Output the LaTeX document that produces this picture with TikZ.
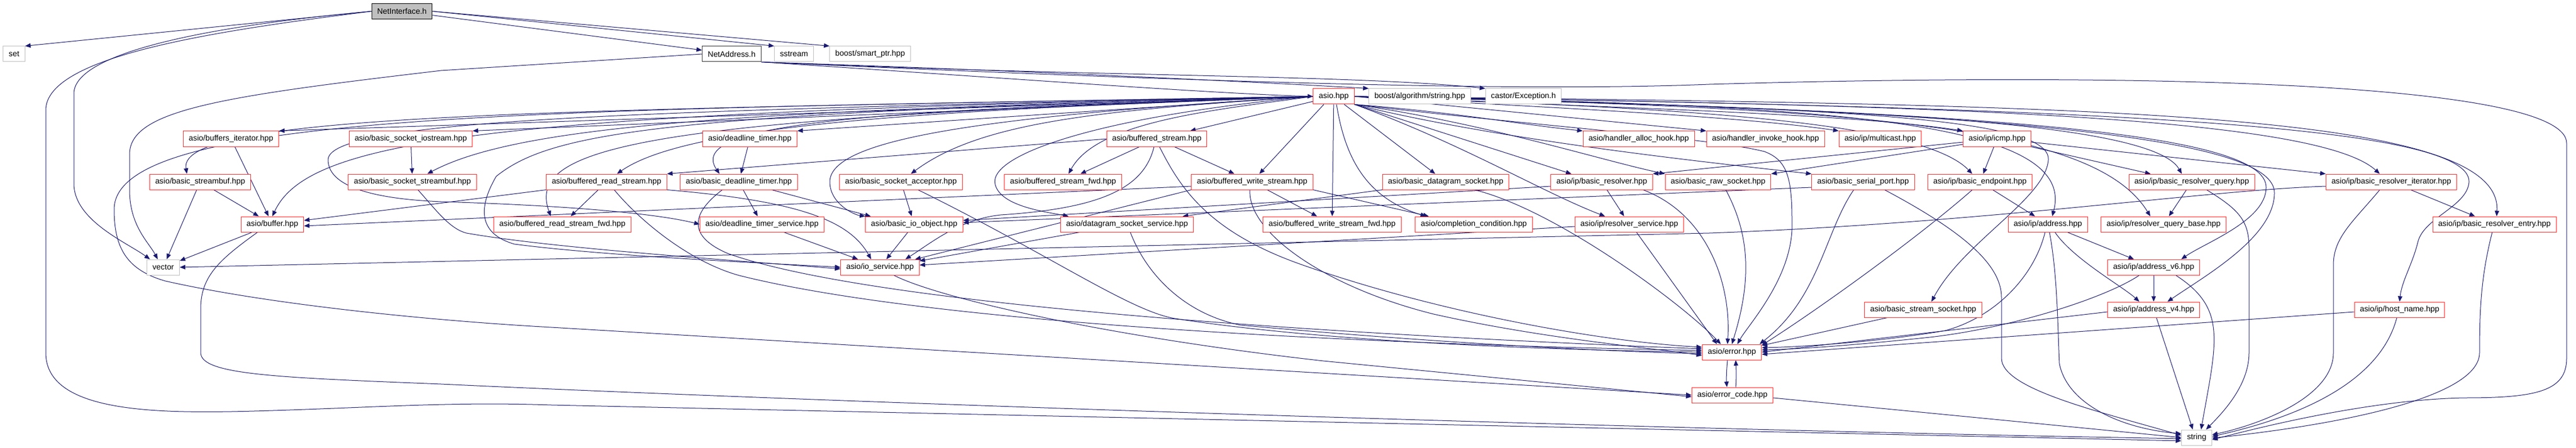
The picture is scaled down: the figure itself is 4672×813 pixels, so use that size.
\documentclass[tikz,border=0pt]{standalone}
\usepackage{fontspec}
\setmainfont{Liberation Sans}
\usetikzlibrary{arrows.meta}

\definecolor{edgeblue}{RGB}{25,25,112}
\definecolor{boxred}{RGB}{255,40,40}
\definecolor{boxgray}{RGB}{191,191,191}

\pgfdeclarelayer{edges}
\pgfsetlayers{edges,main}

\tikzset{
  file/.style={draw=boxred, fill=white, line width=1pt, inner xsep=10pt, inner ysep=0pt,
    minimum height=28pt, font=\fontsize{14.3}{16}\selectfont},
  sysfile/.style={file, draw=boxgray},
  docfile/.style={file, draw=black!80},
  mainfile/.style={file, draw=black, fill=boxgray},
  dep/.style={draw=edgeblue, line width=1pt, -{Triangle[length=10pt,width=8pt]}}
}

\begin{document}
\begin{tikzpicture}[x=1pt,y=1pt]
                \useasboundingbox (0,0) rectangle (4672,-813);
                % top files
                \node[mainfile] (netif) at (729,-20.5) {NetInterface.h};
                \node[sysfile] (set) at (25.5,-98) {set};
                \node[docfile] (netaddr) at (1327,-98) {NetAddress.h};
                \node[sysfile] (sstream) at (1440,-98) {sstream};
                \node[sysfile] (smartptr) at (1578,-98) {boost/smart\_ptr.hpp};
                \node[file] (asio) at (2419,-175) {asio.hpp};
                \node[sysfile] (algostr) at (2575,-175) {boost/algorithm/string.hpp};
                \node[sysfile] (castor) at (2763,-175) {castor/Exception.h};
                % row 4
                \node[file] (bufit) at (419,-252) {asio/buffers\_iterator.hpp};
                \node[file] (sockios) at (745,-252) {asio/basic\_socket\_iostream.hpp};
                \node[file] (dltimer) at (1360,-252) {asio/deadline\_timer.hpp};
                \node[file] (bufstream) at (2098,-252) {asio/buffered\_stream.hpp};
                \node[file] (halloc) at (2972,-252) {asio/handler\_alloc\_hook.hpp};
                \node[file] (hinvoke) at (3202,-252) {asio/handler\_invoke\_hook.hpp};
                \node[file] (mcast) at (3410,-252) {asio/ip/multicast.hpp};
                \node[file] (icmp) at (3622,-252) {asio/ip/icmp.hpp};
                % row 5
                \node[file] (streambuf) at (363,-330) {asio/basic\_streambuf.hpp};
                \node[file] (sockstreambuf) at (748,-330) {asio/basic\_socket\_streambuf.hpp};
                \node[file] (bufread) at (1100,-330) {asio/buffered\_read\_stream.hpp};
                \node[file] (basicdl) at (1340,-330) {asio/basic\_deadline\_timer.hpp};
                \node[file] (acceptor) at (1634,-330) {asio/basic\_socket\_acceptor.hpp};
                \node[file] (bufstreamfwd) at (1928,-330) {asio/buffered\_stream\_fwd.hpp};
                \node[file] (bufwrite) at (2271,-330) {asio/buffered\_write\_stream.hpp};
                \node[file] (dgram) at (2622,-330) {asio/basic\_datagram\_socket.hpp};
                \node[file] (resolver) at (2905,-330) {asio/ip/basic\_resolver.hpp};
                \node[file] (rawsock) at (3116,-330) {asio/basic\_raw\_socket.hpp};
                \node[file] (serial) at (3379,-330) {asio/basic\_serial\_port.hpp};
                \node[file] (endpoint) at (3591,-330) {asio/ip/basic\_endpoint.hpp};
                \node[file] (query) at (3975,-330) {asio/ip/basic\_resolver\_query.hpp};
                \node[file] (iterator) at (4337,-330) {asio/ip/basic\_resolver\_iterator.hpp};
                % row 6
                \node[file] (buffer) at (494,-407) {asio/buffer.hpp};
                \node[file] (bufreadfwd) at (1020,-407) {asio/buffered\_read\_stream\_fwd.hpp};
                \node[file] (dlservice) at (1382,-407) {asio/deadline\_timer\_service.hpp};
                \node[file] (ioobject) at (1658,-407) {asio/basic\_io\_object.hpp};
                \node[file] (dgramservice) at (2044,-407) {asio/datagram\_socket\_service.hpp};
                \node[file] (bufwritefwd) at (2416,-407) {asio/buffered\_write\_stream\_fwd.hpp};
                \node[file] (completion) at (2673,-407) {asio/completion\_condition.hpp};
                \node[file] (resservice) at (2955,-407) {asio/ip/resolver\_service.hpp};
                \node[file] (address) at (3714,-407) {asio/ip/address.hpp};
                \node[file] (querybase) at (3924,-407) {asio/ip/resolver\_query\_base.hpp};
                \node[file] (entry) at (4524,-407) {asio/ip/basic\_resolver\_entry.hpp};
                % lower rows
                \node[sysfile] (vector) at (296,-485) {vector};
                \node[file] (ioservice) at (1596,-485) {asio/io\_service.hpp};
                \node[file] (addrv6) at (3906,-485) {asio/ip/address\_v6.hpp};
                \node[file] (streamsock) at (3488,-562) {asio/basic\_stream\_socket.hpp};
                \node[file] (addrv4) at (3906,-562) {asio/ip/address\_v4.hpp};
                \node[file] (hostname) at (4352,-562) {asio/ip/host\_name.hpp};
                \node[file] (error) at (3141,-639) {asio/error.hpp};
                \node[file] (errorcode) at (3142,-717) {asio/error\_code.hpp};
                \node[sysfile] (string) at (3984,-794) {string};

                \begin{pgfonlayer}{edges}
                % NetInterface.h
                \draw[dep] (netif.west) -- (set.north east);
                \draw[dep] (netif.west) .. controls (350,-50) and (134,-100) .. (134,-170) -- (134,-333) .. controls (134,-400) and (230,-440) .. ([xshift=-24pt]vector.north);
                \draw[dep] (netif.west) .. controls (400,-55) and (83,-100) .. (83,-200) -- (83,-640) .. controls (83,-740) and (250,-750) .. (420,-747) .. controls (650,-742) and (800,-728) .. (1000,-735) -- ([yshift=-6pt]string.west);
                \draw[dep] (netif) -- (netaddr);
                \draw[dep] (netif.east) -- (sstream.north west);
                \draw[dep] (netif.east) -- (smartptr.north west);
                % NetAddress.h
                \draw[dep] (netaddr.west) -- (800,-128) .. controls (400,-175) and (235,-200) .. (235,-280) -- (235,-345) .. controls (235,-410) and (270,-440) .. ([xshift=-10pt]vector.north);
                \draw[dep] (netaddr.south east) .. controls (1800,-140) and (2200,-170) .. (asio.west);
                \draw[dep] (netaddr.south east) .. controls (1900,-130) and (2300,-150) .. (algostr.north west);
                \draw[dep] (netaddr.south east) .. controls (2000,-140) and (2450,-135) .. (castor.north west);
                \draw[dep] (netaddr.south east) .. controls (2300,-155) and (2800,-165) .. (3100,-153) .. controls (3900,-130) and (4655,-150) .. (4655,-260) -- (4655,-650) .. controls (4655,-710) and (4600,-722) .. (4470,-722) .. controls (4300,-725) and (4100,-775) .. ([yshift=-4pt]string.east);
                % asio.hpp
                \draw[dep] (asio.west) -- (bufit.north east);
                \draw[dep] (asio.west) -- (sockios.north east);
                \draw[dep] (asio.west) -- (dltimer.north east);
                \draw[dep] (asio) -- (bufstream);
                \draw[dep] (asio.south east) .. controls (2650,-205) and (2750,-225) .. (halloc.north west);
                \draw[dep] (asio.east) -- (hinvoke.north west);
                \draw[dep] (asio.east) .. controls (2800,-195) and (3150,-210) .. (mcast.north west);
                \draw[dep] (asio.east) .. controls (2900,-195) and (3350,-205) .. (icmp.north west);
                \draw[dep] (asio.west) .. controls (1000,-200) and (320,-205) .. ([xshift=-24pt]streambuf.north);
                \draw[dep] (asio.west) .. controls (1400,-200) and (950,-222) .. ([xshift=27pt]sockstreambuf.north);
                \draw[dep] (asio.west) .. controls (1700,-200) and (1250,-224) .. ([xshift=19pt]bufread.north);
                \draw[dep] (asio.west) .. controls (1600,-200) and (1240,-220) .. ([xshift=-35pt]basicdl.north);
                \draw[dep] (asio.west) .. controls (2000,-200) and (1780,-220) .. ([xshift=18pt]acceptor.north);
                \draw[dep] (asio.west) .. controls (2200,-200) and (1990,-220) .. ([xshift=10pt]bufstreamfwd.north);
                \draw[dep] ([xshift=-18pt]asio.south) -- ([xshift=13pt]bufwrite.north);
                \draw[dep] (asio) -- (dgram);
                \draw[dep] (asio.south east) -- ([xshift=-55pt]resolver.north);
                \draw[dep] (asio.south east) .. controls (2700,-225) and (2900,-290) .. (rawsock.north west);
                \draw[dep] (asio.south east) .. controls (2700,-250) and (3050,-290) .. (serial.north west);
                \draw[dep] (asio.east) .. controls (3000,-195) and (3480,-215) .. ([xshift=-14pt]endpoint.north);
                \draw[dep] (asio.east) .. controls (3300,-195) and (3900,-215) .. ([xshift=-18pt]query.north);
                \draw[dep] (asio.east) .. controls (3500,-190) and (4200,-210) .. ([xshift=-21pt]iterator.north);
                \draw[dep] (asio.west) .. controls (900,-205) and (560,-250) .. (buffer.north);
                \draw[dep] (asio.west) .. controls (1200,-215) and (950,-260) .. ([xshift=-21pt]bufreadfwd.north);
                \draw[dep] (asio.west) .. controls (1200,-200) and (595,-215) .. (595,-290) .. controls (595,-345) and (700,-362) .. (800,-366) .. controls (1000,-372) and (1180,-385) .. (dlservice.west);
                \draw[dep] (asio.west) .. controls (1800,-210) and (1505,-250) .. (1505,-330) .. controls (1505,-370) and (1550,-390) .. (ioobject.north west);
                \draw[dep] (asio.west) .. controls (2000,-210) and (1790,-280) .. (1805,-335) .. controls (1815,-375) and (1900,-385) .. ([xshift=15pt]dgramservice.north west);
                \draw[dep] (asio) -- (bufwritefwd);
                \draw[dep] ([xshift=5pt]asio.south) .. controls (2440,-290) and (2480,-360) .. ([xshift=20pt]completion.north west);
                \draw[dep] (asio.south east) .. controls (2650,-260) and (2800,-350) .. ([xshift=-44pt]resservice.north);
                \draw[dep] (asio.east) .. controls (3300,-190) and (3770,-215) .. ([xshift=8pt]address.north);
                \draw[dep] (asio.east) .. controls (3400,-195) and (3800,-230) .. ([xshift=-24pt]querybase.north);
                \draw[dep] (asio.east) .. controls (3800,-190) and (4540,-200) .. ([xshift=4pt]entry.north);
                \draw[dep] (asio.west) .. controls (1200,-205) and (1000,-240) .. (900,-320) .. controls (865,-380) and (870,-425) .. (933,-443) .. controls (1100,-465) and (1400,-478) .. (ioservice.west);
                \draw[dep] (asio.east) .. controls (3600,-200) and (4110,-240) .. (4110,-340) .. controls (4110,-400) and (4000,-440) .. ([xshift=50pt]addrv6.north);
                \draw[dep] (asio.east) .. controls (3700,-200) and (4125,-255) .. (4125,-350) .. controls (4125,-430) and (4000,-500) .. ([xshift=25pt]addrv4.north);
                \draw[dep] (asio.east) .. controls (3300,-195) and (3720,-210) .. (3715,-290) .. controls (3710,-360) and (3560,-440) .. ([xshift=15pt]streamsock.north);
                \draw[dep] (asio.east) .. controls (3800,-195) and (4480,-225) .. (4478,-330) .. controls (4475,-375) and (4395,-395) .. (4385,-440) .. controls (4375,-480) and (4356,-510) .. (hostname.north);
                \draw[dep] (asio.south east) .. controls (2800,-230) and (3100,-250) .. (3200,-275) .. controls (3240,-290) and (3250,-320) .. (3250,-400) .. controls (3255,-500) and (3170,-590) .. ([xshift=10pt]error.north);
                \draw[dep] (asio.west) .. controls (1000,-200) and (207,-200) .. (207,-380) .. controls (207,-450) and (230,-490) .. (300,-510) .. controls (500,-555) and (800,-583) .. (1000,-594) -- (errorcode.west);
                % buffers and streams
                \draw[dep] (bufit) -- (buffer);
                \draw[dep] (streambuf) -- (buffer);
                \draw[dep] (streambuf) -- (vector);
                \draw[dep] (buffer) -- (vector);
                \draw[dep] ([xshift=-27pt]buffer.south) .. controls (400,-470) and (364,-500) .. (364,-560) -- (364,-640) .. controls (364,-680) and (500,-685) .. (800,-697) .. controls (1500,-730) and (3000,-780) .. ([yshift=-2pt]string.west);
                \draw[dep] (sockios) -- (sockstreambuf);
                \draw[dep] ([xshift=10pt]sockstreambuf.south) .. controls (790,-380) and (815,-415) .. (846,-423) .. controls (1000,-450) and (1300,-470) .. ([yshift=-3pt]ioservice.west);
                \draw[dep] (dltimer) -- (basicdl);
                \draw[dep] (basicdl) -- (dlservice);
                \draw[dep] ([xshift=-47pt]basicdl.south east) -- ([xshift=10pt]ioobject.north west);
                \draw[dep] ([xshift=-30pt]basicdl.south) .. controls (1250,-390) and (1250,-430) .. (1320,-460) .. controls (1600,-560) and (2500,-610) .. ([yshift=6pt]error.west);
                \draw[dep] (bufread) -- (bufreadfwd);
                \draw[dep] (bufread.south west) -- ([yshift=7pt]buffer.east);
                \draw[dep] (bufread.south east) .. controls (1450,-365) and (1540,-400) .. ([xshift=-16pt]ioservice.north);
                \draw[dep] ([xshift=14pt]bufread.south) .. controls (1160,-400) and (1250,-475) .. (1341,-500) .. controls (1700,-590) and (2500,-625) .. ([yshift=3pt]error.west);
                \draw[dep] (acceptor) -- (ioobject);
                \draw[dep] ([xshift=31pt]acceptor.south) .. controls (1900,-460) and (2050,-565) .. (2131,-578) .. controls (2400,-620) and (2800,-635) .. (error.west);
                \draw[dep] (bufstream) -- (bufstreamfwd);
                \draw[dep] (bufstream) -- (bufwrite);
                \draw[dep] (bufstream.west) -- (bufread.north east);
                \draw[dep] ([xshift=-5pt]bufstream.south) .. controls (2075,-340) and (2000,-378) .. (1815,-390) .. controls (1740,-398) and (1690,-440) .. ([xshift=46pt]ioservice.north);
                \draw[dep] ([xshift=5pt]bufstream.south) .. controls (2140,-340) and (2190,-420) .. (2360,-480) .. controls (2600,-565) and (2900,-620) .. ([yshift=9pt]error.west);
                \draw[dep] (bufwrite) -- (bufwritefwd);
                \draw[dep] ([yshift=-8pt]bufwrite.west) -- ([yshift=-3pt]buffer.east);
                \draw[dep] (bufwrite.south west) -- ([xshift=-8pt]ioservice.north east);
                \draw[dep] ([xshift=-4pt]bufwrite.south) .. controls (2262,-420) and (2400,-520) .. (2600,-570) .. controls (2800,-615) and (3000,-632) .. ([yshift=-6pt]error.west);
                \draw[dep] (bufwrite.south east) -- ([xshift=25pt]completion.north west);
                % sockets and services
                \draw[dep] (dgram.south west) -- ([xshift=-20pt]dgramservice.north east);
                \draw[dep] ([xshift=52pt]dgram.south) .. controls (2820,-380) and (3050,-550) .. ([xshift=-20pt]error.north);
                \draw[dep] ([xshift=-86pt]dgramservice.south) -- ([yshift=-3pt]ioservice.north east);
                \draw[dep] ([xshift=6pt]dgramservice.south) .. controls (2080,-500) and (2150,-570) .. (2250,-590) .. controls (2600,-622) and (2900,-637) .. ([yshift=-3pt]error.west);
                \draw[dep] (ioobject) -- (ioservice);
                \draw[dep] (dlservice) -- (ioservice);
                \draw[dep] ([xshift=25pt]ioservice.south) .. controls (1700,-540) and (2000,-610) .. (2400,-655) -- ([yshift=-3pt]errorcode.west);
                \draw[dep] (resolver) -- (resservice);
                \draw[dep] ([yshift=-8pt]resolver.west) -- ([yshift=7pt]ioobject.east);
                \draw[dep] ([xshift=75pt]resolver.south) .. controls (3100,-390) and (3140,-520) .. ([xshift=-8pt]error.north);
                \draw[dep] ([xshift=14pt]rawsock.south) .. controls (3170,-420) and (3180,-500) .. (error.north);
                \draw[dep] ([yshift=-10pt]serial.west) -- ([yshift=3pt]ioobject.east);
                \draw[dep] ([xshift=-17pt]serial.south) .. controls (3310,-420) and (3300,-540) .. ([xshift=-4pt]error.north east);
                \draw[dep] ([xshift=39pt]serial.south) .. controls (3560,-420) and (3630,-480) .. (3630,-540) -- (3630,-650) .. controls (3630,-705) and (3800,-745) .. ([yshift=4pt]string.west);
                \draw[dep] ([yshift=-4pt]resservice.west) -- ([yshift=4pt]ioservice.east);
                \draw[dep] ([xshift=13pt]resservice.south) -- ([xshift=-27pt]error.north);
                \draw[dep] (streamsock) -- (error);
                % ip
                \draw[dep] (icmp) -- (endpoint);
                \draw[dep] ([yshift=-10pt]icmp.west) -- (rawsock.north east);
                \draw[dep] ([yshift=-6pt]icmp.west) -- (resolver.north east);
                \draw[dep] (icmp.south east) -- ([xshift=40pt]query.north west);
                \draw[dep] ([yshift=-6pt]icmp.east) -- (iterator.north west);
                \draw[dep] (endpoint) -- (address);
                \draw[dep] ([xshift=-14pt]endpoint.south) .. controls (3480,-430) and (3300,-560) .. ([yshift=-2pt]error.north east);
                \draw[dep] (query) -- (querybase);
                \draw[dep] ([xshift=27pt]query.south) .. controls (4060,-380) and (4079,-400) .. (4079,-450) -- (4079,-640) .. controls (4079,-700) and (4030,-750) .. ([xshift=17pt]string.north);
                \draw[dep] (iterator) -- (entry);
                \draw[dep] ([xshift=-21pt]iterator.south) .. controls (4270,-400) and (4232,-430) .. (4232,-480) -- (4232,-640) .. controls (4232,-720) and (4100,-770) .. ([yshift=5pt]string.east);
                \draw[dep] ([yshift=-8pt]iterator.west) .. controls (4000,-345) and (3600,-405) .. (3100,-423) -- (vector.east);
                \draw[dep] (address) -- (addrv6);
                \draw[dep] ([xshift=13pt]address.south) .. controls (3760,-470) and (3850,-520) .. ([xshift=-26pt]addrv4.north);
                \draw[dep] ([xshift=-5pt]address.south) .. controls (3690,-500) and (3620,-575) .. (3528,-600) .. controls (3400,-622) and (3250,-630) .. ([yshift=8pt]error.east);
                \draw[dep] ([xshift=3pt]address.south) .. controls (3732,-500) and (3732,-600) .. (3735,-660) .. controls (3750,-735) and (3850,-778) .. ([yshift=7pt]string.west);
                \draw[dep] (addrv6) -- (addrv4);
                \draw[dep] ([xshift=40pt]addrv6.south) .. controls (4040,-560) and (4020,-620) .. ([xshift=8pt]string.north);
                \draw[dep] ([xshift=-26pt]addrv6.south) .. controls (3820,-540) and (3650,-595) .. (3500,-612) .. controls (3350,-628) and (3250,-634) .. ([yshift=4pt]error.east);
                \draw[dep] ([xshift=5pt]addrv4.south) -- ([xshift=-7pt]string.north);
                \draw[dep] ([yshift=-4pt]addrv4.west) -- (error.east);
                \draw[dep] ([yshift=-4pt]hostname.west) -- ([yshift=-4pt]error.east);
                \draw[dep] ([xshift=-5pt]hostname.south) .. controls (4320,-680) and (4200,-750) .. ([yshift=2pt]string.east);
                \draw[dep] ([xshift=-4pt]entry.south) .. controls (4500,-500) and (4497,-560) .. (4497,-640) .. controls (4497,-720) and (4250,-770) .. ([yshift=-1pt]string.east);
                % error
                \draw[dep] ([xshift=-8pt]error.south) .. controls (3131,-675) and (3131,-690) .. ([xshift=-10pt]errorcode.north);
                \draw[dep] ([xshift=6pt]errorcode.north) .. controls (3149,-690) and (3149,-675) .. ([xshift=7pt]error.south);
                \draw[dep] ([yshift=-5pt]errorcode.east) -- (string.west);
                \end{pgfonlayer}
            \end{tikzpicture}
\end{document}
